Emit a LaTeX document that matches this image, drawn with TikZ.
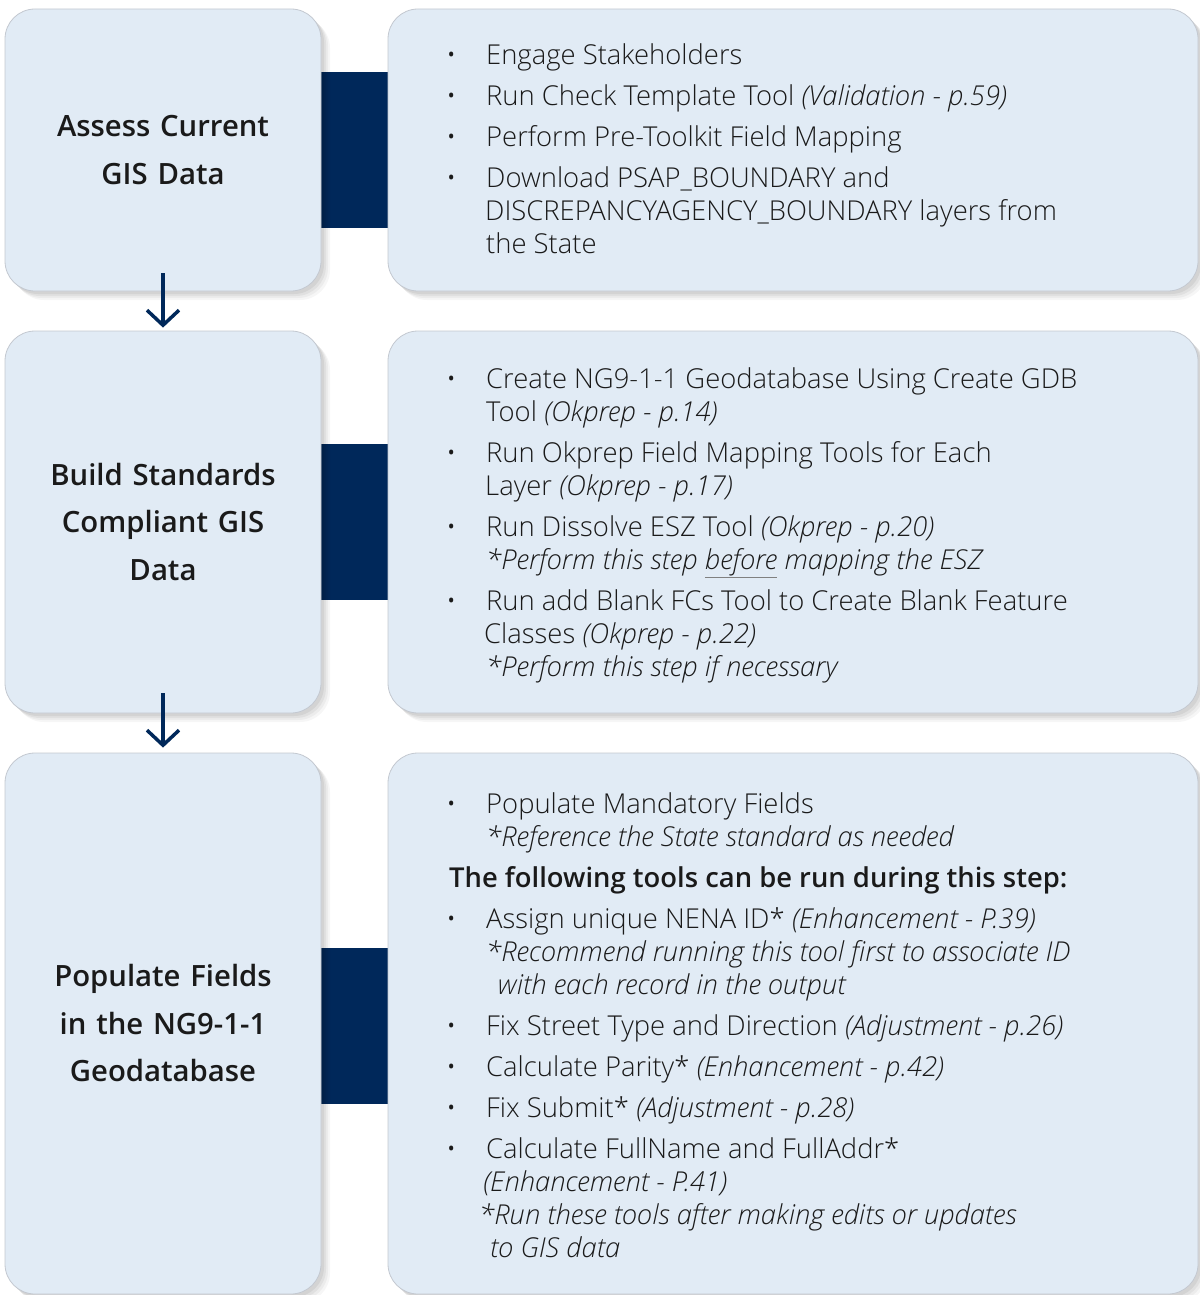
\documentclass[tikz,border=0pt]{standalone}
\usepackage{fontspec}
\setmainfont{Open Sans}[UprightFont={* Light},ItalicFont={* Light Italic},BoldFont={* Semibold},BoldItalicFont={* Semibold Italic}]
\usetikzlibrary{arrows.meta,shadows,backgrounds}
\definecolor{boxfill}{HTML}{E1EBF5}
\definecolor{boxline}{HTML}{C3C8D0}
\definecolor{navy}{HTML}{00285A}
\definecolor{txt}{HTML}{1A1A1A}
\setlength{\lineskiplimit}{-60pt}
\newcommand{\blt}{\makebox[35pt][l]{\hspace*{-5pt}{\fontseries{m}\selectfont\textbullet}}}
\newcommand{\ind}[1]{\hspace*{#1pt}}
\newcommand{\gul}[1]{{\color{gray}\underline{\color{txt}#1}}}
\tikzset{
  softshadow/.style={
    general shadow={fill=black, opacity=0.035, shadow xshift=9pt, shadow yshift=-9pt},
    general shadow={fill=black, opacity=0.04, shadow xshift=7pt, shadow yshift=-7pt},
    general shadow={fill=black, opacity=0.05, shadow xshift=5pt, shadow yshift=-5pt},
    general shadow={fill=black, opacity=0.06, shadow xshift=3pt, shadow yshift=-3pt}},
  card/.style={rectangle, rounded corners=30pt, fill=boxfill, draw=boxline,
    line width=0.8pt, inner sep=0pt, softshadow},
  stagetext/.style={align=center, text width=310pt, text=txt,
    font=\bfseries\fontsize{29.3}{47.5}\selectfont},
  listtext/.style={anchor=base west, inner sep=0pt, text=txt,
    font=\fontsize{27.4}{33}\selectfont},
  flowarrow/.style={draw=navy, line width=3.5pt, -{Straight Barb[length=15pt,width=32pt]}},
  connbar/.style={fill=navy}
}
\begin{document}
\begin{tikzpicture}[x=1pt,y=-1pt]
\useasboundingbox (0,0) rectangle (1199,1295);

% left stage boxes
\node[card, stagetext, minimum width=316pt, minimum height=282pt] (l1) at (163,150)
  {Assess Current\\GIS Data};
\node[card, stagetext, minimum width=316pt, minimum height=382pt] (l2) at (163,522)
  {Build Standards\\Compliant GIS\\Data};
\node[card, stagetext, minimum width=316pt, minimum height=541pt] (l3) at (163,1023.5)
  {Populate Fields\\in the NG9-1-1\\Geodatabase};

% right detail boxes
\node[card, minimum width=810pt, minimum height=282pt] (r1) at (793,150) {};
\node[card, minimum width=810pt, minimum height=382pt] (r2) at (793,522) {};
\node[card, minimum width=810pt, minimum height=541pt] (r3) at (793,1023.5) {};

% connecting bars
\begin{scope}[on background layer]
  \fill[connbar] ([yshift=78pt]l1.east) rectangle ([yshift=-78pt]r1.west);
  \fill[connbar] ([yshift=78pt]l2.east) rectangle ([yshift=-78pt]r2.west);
  \fill[connbar] ([yshift=75.5pt]l3.east) rectangle ([yshift=-80.5pt]r3.west);
\end{scope}

% arrows
\draw[flowarrow] ([yshift=18pt]l1.south) -- ([yshift=3pt]l2.north);
\draw[flowarrow] ([yshift=20pt]l2.south) -- ([yshift=5pt]l3.north);

% texts
\node[listtext] (t1) at (451,65) {\parbox[t]{740pt}{%
\blt Engage Stakeholders\\[8pt]
\blt Run Check Template Tool \textit{(Validation - p.59)}\\[8pt]
\blt Perform Pre-Toolkit Field Mapping\\[8pt]
\blt Download PSAP\_BOUNDARY and\\
\ind{34}DISCREPANCYAGENCY\_BOUNDARY layers from\\
\ind{35}the State}};

\node[listtext] (t2) at (451,388) {\parbox[t]{740pt}{%
\blt Create NG9-1-1 Geodatabase Using Create GDB\\
\ind{35}Tool \textit{(Okprep - p.14)}\\[8pt]
\blt Run Okprep Field Mapping Tools for Each\\
\ind{34}Layer \textit{(Okprep - p.17)}\\[8pt]
\blt Run Dissolve ESZ Tool \textit{(Okprep - p.20)}\\
\ind{35}\textit{*Perform this step \gul{before} mapping the ESZ}\\[8pt]
\blt Run add Blank FCs Tool to Create Blank Feature\\
\ind{33}Classes \textit{(Okprep - p.22)}\\
\ind{35}\textit{*Perform this step if necessary}}};

\node[listtext] (t3) at (451,813) {\parbox[t]{740pt}{%
\blt Populate Mandatory Fields\\
\ind{35}\textit{*Reference the State standard as needed}\\[8pt]
\hspace*{-2pt}\textbf{The following tools can be run during this step:}\\[8pt]
\blt Assign unique NENA ID* \textit{(Enhancement - P.39)}\\
\ind{35}\textit{*Recommend running this tool first to associate ID}\\
\ind{47}\textit{with each record in the output}\\[8pt]
\blt Fix Street Type and Direction \textit{(Adjustment - p.26)}\\[8pt]
\blt Calculate Parity* \textit{(Enhancement - p.42)}\\[8pt]
\blt Fix Submit* \textit{(Adjustment - p.28)}\\[8pt]
\blt Calculate FullName and FullAddr*\\
\ind{32}\textit{(Enhancement - P.41)}\\
\ind{28}\textit{*Run these tools after making edits or updates}\\
\ind{39}\textit{to GIS data}}};
\end{tikzpicture}
\end{document}
